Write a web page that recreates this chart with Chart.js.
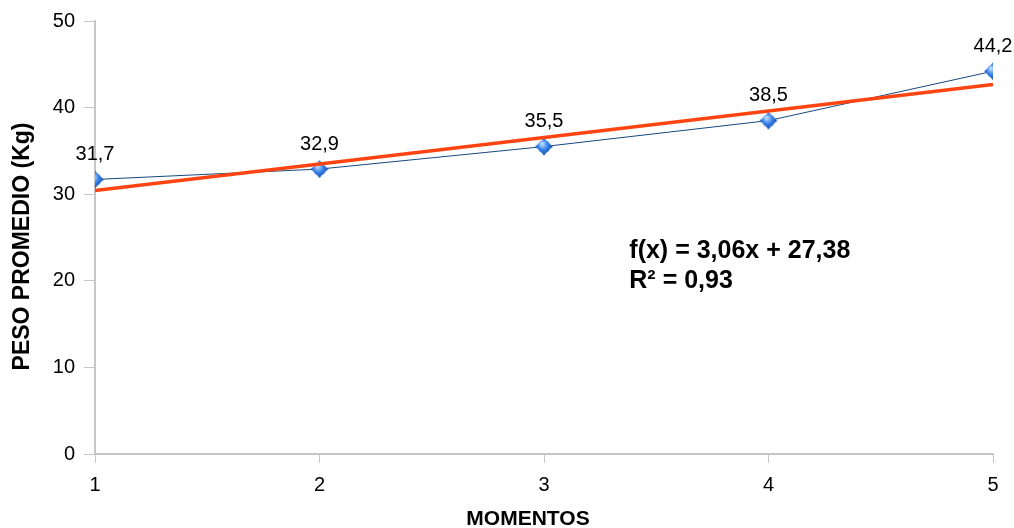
<!DOCTYPE html>
<html>
<head>
<meta charset="utf-8">
<script src="https://cdn.jsdelivr.net/npm/chart.js@4/dist/chart.umd.min.js"></script>
<style>
  html, body { margin: 0; padding: 0; background: #fff; }
  #wrap { width: 1014px; height: 528px; }
</style>
</head>
<body>
<div id="wrap"><canvas id="peso"></canvas></div>
<script>
  // data
  const momentos = [1, 2, 3, 4, 5];
  const pesoPromedio = [31.7, 32.9, 35.5, 38.5, 44.2];
  const pesoLabels = ["31,7", "32,9", "35,5", "38,5", "44,2"];
  const yTicks = [0, 10, 20, 30, 40, 50];
  // trend line f(x) = 3,06x + 27,38
  const trendSlope = 3.06;
  const trendIntercept = 27.38;
  const trendX = [1, 5];
  const equationLines = ["f(x) = 3,06x + 27,38", "R\u00b2 = 0,93"];
  const equationAt = { x: 3.38, y: 23.4 };
  const xTitle = "MOMENTOS";
  const yTitle = "PESO PROMEDIO (Kg)";

  const axisGray = '#c6c6c6';
  const fontFamily = '"Liberation Sans", Arial, sans-serif';

  const valueLabels = {
    id: 'valueLabels',
    afterDatasetsDraw(chart) {
      const ctx = chart.ctx;
      const area = chart.chartArea;
      const meta = chart.getDatasetMeta(1);
      ctx.save();
      ctx.fillStyle = '#000';
      ctx.font = '20px ' + fontFamily;
      ctx.textAlign = 'center';
      ctx.textBaseline = 'middle';
      meta.data.forEach(function(pt, i) {
        ctx.fillText(pesoLabels[i], pt.x, pt.y - 25);
      });

      // equation of the trend line
      const ex = chart.scales.x.getPixelForValue(equationAt.x);
      const ey = chart.scales.y.getPixelForValue(equationAt.y);
      ctx.font = 'bold 25px ' + fontFamily;
      ctx.textAlign = 'left';
      equationLines.forEach(function(line, i) {
        ctx.fillText(line, ex, ey + i * 30);
      });

      // axis titles
      ctx.textAlign = 'center';
      ctx.font = 'bold 21px ' + fontFamily;
      ctx.fillText(xTitle, (area.left + area.right) / 2 - 16, area.bottom + 65);

      ctx.font = 'bold 23px ' + fontFamily;
      ctx.translate(area.left - 72, (area.top + area.bottom) / 2 + 9);
      ctx.rotate(-Math.PI / 2);
      ctx.fillText(yTitle, 0, 0);
      ctx.restore();
    }
  };

  // blue shiny marker
  function makeMarker() {
    const c = document.createElement('canvas');
    c.width = 20; c.height = 20;
    const g = c.getContext('2d');
    const grad = g.createRadialGradient(8, 7, 1, 10, 10, 10);
    grad.addColorStop(0, '#b4d8ff');
    grad.addColorStop(0.45, '#3580e8');
    grad.addColorStop(1, '#0d3f9a');
    g.fillStyle = grad;
    g.beginPath();
    g.moveTo(10, 1);
    g.quadraticCurveTo(13.5, 6.5, 19, 10);
    g.quadraticCurveTo(13.5, 13.5, 10, 19);
    g.quadraticCurveTo(6.5, 13.5, 1, 10);
    g.quadraticCurveTo(6.5, 6.5, 10, 1);
    g.closePath();
    g.fill();
    g.beginPath();
    g.arc(10, 10, 6.5, 0, Math.PI * 2);
    g.fill();
    return c;
  }
  const marker = makeMarker();

  const trendData = trendX.map(function(x) {
    return { x: x, y: trendSlope * x + trendIntercept };
  });
  const pesoData = momentos.map(function(m, i) {
    return { x: m, y: pesoPromedio[i] };
  });

  const config = {
    type: 'line',
    data: {
      datasets: [{
        label: 'Tendencia',
        data: trendData,
        borderColor: '#ff4411',
        borderWidth: 3.5,
        pointRadius: 0,
        fill: false,
      }, {
        label: 'Peso',
        data: pesoData,
        borderColor: '#17487f',
        borderWidth: 1,
        pointStyle: marker,
        pointRadius: 10,
        fill: false,
      }]
    },
    options: {
      responsive: true,
      maintainAspectRatio: false,
      animation: false,
      events: [],
      layout: { padding: { top: 20, right: 21, left: 0, bottom: 0 } },
      plugins: {
        legend: { display: false },
        tooltip: { enabled: false },
      },
      scales: {
        x: {
          type: 'linear',
          min: 1,
          max: 5,
          afterFit(scale) { scale.height = 74; },
          ticks: {
            stepSize: 1,
            color: '#000',
            padding: 10,
            font: { size: 20, family: fontFamily },
          },
          grid: { drawOnChartArea: false, tickLength: 9, color: axisGray },
          border: { color: axisGray, width: 2 },
        },
        y: {
          min: 0,
          max: 50,
          afterFit(scale) { scale.width = 95; },
          afterBuildTicks(scale) { scale.ticks = yTicks.map(function(v) { return { value: v }; }); },
          ticks: {
            color: '#000',
            padding: 9,
            font: { size: 20, family: fontFamily },
          },
          grid: { drawOnChartArea: false, tickLength: 11, color: axisGray },
          border: { color: axisGray, width: 2 },
        },
      },
    },
    plugins: [valueLabels],
  };

  new Chart(document.getElementById('peso'), config);
</script>
</body>
</html>
